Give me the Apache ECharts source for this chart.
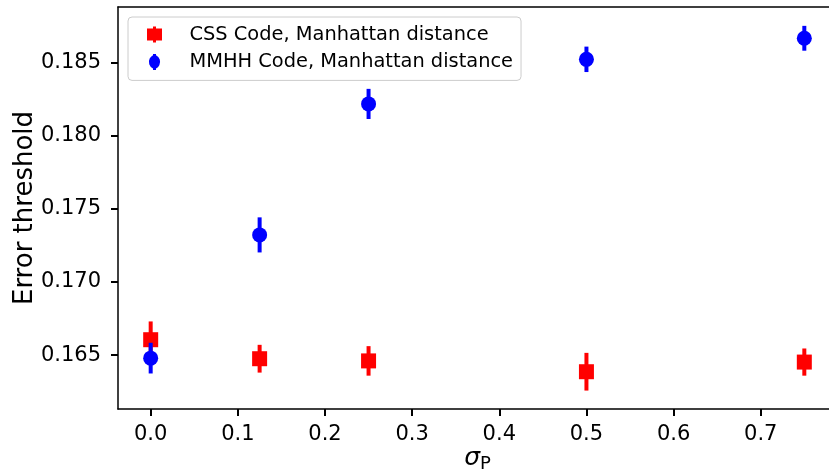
<!DOCTYPE html>
<html>
<head>
<meta charset="utf-8">
<script src="https://cdn.jsdelivr.net/npm/echarts@6/dist/echarts.min.js"></script>
<style>
html,body{margin:0;padding:0;background:#fff;overflow:hidden;}
#chart{width:829px;height:476px;}
</style>
</head>
<body>
<div id="chart"></div>
<script>
var sigmaP = [0, 0.125, 0.25, 0.5, 0.75];
var cssValues = [0.16605, 0.16475, 0.16460, 0.16386, 0.16452];
var cssErrors = [0.00125, 0.00095, 0.00101, 0.00129, 0.00093];
var mmhhValues = [0.16479, 0.17322, 0.18218, 0.18523, 0.18667];
var mmhhErrors = [0.00105, 0.0012, 0.00103, 0.00087, 0.00085];
var xTicks = [0, 0.1, 0.2, 0.3, 0.4, 0.5, 0.6, 0.7];
var yTicks = [0.165, 0.170, 0.175, 0.180, 0.185];

var FONT = 'DejaVu Sans';
var X_MIN = -0.0375, X_MAX = 0.7875;

function pts(vals) { return sigmaP.map(function (x, i) { return [x, vals[i]]; }); }
function errs(vals, e) { return sigmaP.map(function (x, i) { return [x, vals[i], e[i]]; }); }

function errRender(color) {
  return function (params, api) {
    var x = api.value(0), y = api.value(1), e = api.value(2);
    var p1 = api.coord([x, y - e]);
    var p2 = api.coord([x, y + e]);
    return {
      type: 'line',
      shape: { x1: p1[0], y1: p1[1], x2: p2[0], y2: p2[1] },
      style: { stroke: color, lineWidth: 4 }
    };
  };
}

var chart = echarts.init(document.getElementById('chart'), null, { renderer: 'canvas' });
chart.setOption({
  animation: false,
  backgroundColor: '#fff',
  grid: { left: 118, top: 7, width: 719, height: 402, outerBoundsMode: 'none', containLabel: false, show: false },
  xAxis: [{
    type: 'value', min: X_MIN, max: X_MAX,
    splitLine: { show: false },
    axisLine: { onZero: false, lineStyle: { color: '#000', width: 1.5 } },
    axisTick: { customValues: xTicks, length: 7, lineStyle: { color: '#000', width: 2 } },
    axisLabel: { customValues: xTicks, formatter: function (v) { return v.toFixed(1); }, fontFamily: FONT, fontSize: 21, color: '#000', margin: 15 },
    name: '{s|σ}{p|P}', nameLocation: 'middle', nameGap: 34, nameMoveOverlap: false,
    nameTextStyle: {
      rich: {
        s: { fontFamily: FONT, fontStyle: 'italic', fontSize: 25, color: '#000' },
        p: { fontFamily: FONT, fontSize: 18, color: '#000', padding: [12, 0, 0, 0] }
      }
    }
  }, {
    type: 'value', position: 'top', min: X_MIN, max: X_MAX,
    splitLine: { show: false },
    axisLine: { onZero: false, lineStyle: { color: '#000', width: 1.5 } },
    axisTick: { show: false },
    axisLabel: { show: false }
  }],
  yAxis: {
    type: 'value', min: 0.16131, max: 0.18881,
    splitLine: { show: false },
    axisLine: { onZero: false, lineStyle: { color: '#000', width: 1.5 } },
    axisTick: { customValues: yTicks, length: 7, lineStyle: { color: '#000', width: 2 } },
    axisLabel: { customValues: yTicks, formatter: function (v) { return v.toFixed(3); }, fontFamily: FONT, fontSize: 21, color: '#000', margin: 17 },
    name: 'Error threshold', nameLocation: 'middle', nameGap: 80, nameRotate: 90, nameMoveOverlap: false,
    nameTextStyle: { fontFamily: FONT, fontSize: 26, color: '#000' }
  },
  legend: {
    left: 128, top: 17, orient: 'vertical',
    padding: [8, 8, 9, 19], itemGap: 8.4,
    itemWidth: 16, itemHeight: 16,
    borderColor: '#cccccc', borderWidth: 1, borderRadius: 4,
    backgroundColor: 'rgba(255,255,255,0.8)',
    textStyle: { fontFamily: FONT, fontSize: 19.4, color: '#000', padding: [0, 0, 0, 22] },
    data: [
      { name: 'CSS Code, Manhattan distance', icon: 'path://M6,0 H9 V2 H15 V14 H9 V16 H6 V14 H0 V2 H6 Z' },
      { name: 'MMHH Code, Manhattan distance', icon: 'path://M6,0 H9 V1.3 A7.5,7.5 0 0 1 9,14.7 V16 H6 V14.7 A7.5,7.5 0 0 1 6,1.3 Z' }
    ]
  },
  series: [
    { type: 'custom', name: 'CSS Code, Manhattan distance', renderItem: errRender('#ff0000'), data: errs(cssValues, cssErrors), itemStyle: { color: '#ff0000' }, z: 2 },
    { type: 'scatter', name: 'CSS Code, Manhattan distance', symbol: 'rect', symbolSize: 15, itemStyle: { color: '#ff0000', opacity: 1 }, data: pts(cssValues), z: 2 },
    { type: 'custom', name: 'MMHH Code, Manhattan distance', renderItem: errRender('#0000ff'), data: errs(mmhhValues, mmhhErrors), itemStyle: { color: '#0000ff' }, z: 3 },
    { type: 'scatter', name: 'MMHH Code, Manhattan distance', symbol: 'circle', symbolSize: 15, itemStyle: { color: '#0000ff', opacity: 1 }, data: pts(mmhhValues), z: 3 }
  ]
});
</script>
</body>
</html>
